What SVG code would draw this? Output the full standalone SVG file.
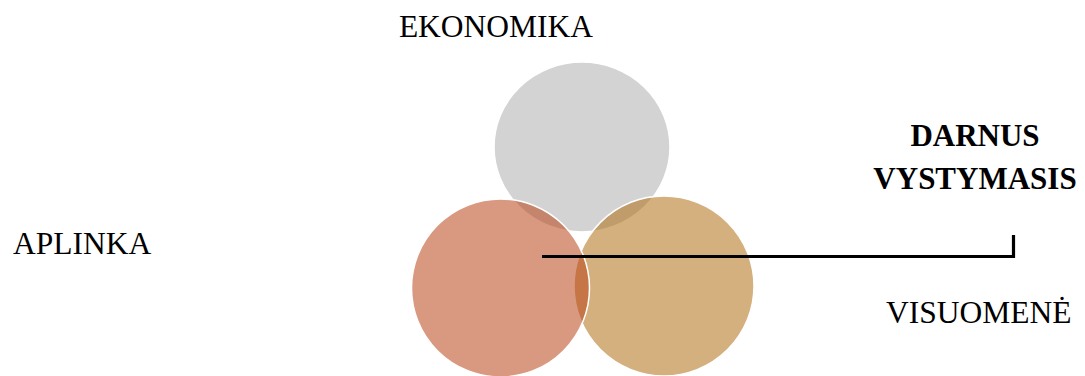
<svg xmlns="http://www.w3.org/2000/svg" width="1085" height="376" viewBox="0 0 1085 376">
<style>
.lbl{font-family:"Liberation Serif","Times New Roman",serif;font-size:31.5px;fill:#000}
.b{font-weight:bold;font-size:31px}
.c{stroke:#fff;stroke-width:1.5}
.conn{fill:none;stroke:#000;stroke-width:3.2}
</style>
<rect width="1085" height="376" fill="#fff"/>
<g id="ekonomika">
<ellipse class="c" cx="582" cy="147" rx="88" ry="85" fill="#d3d3d3"/>
</g>
<g id="visuomene">
<circle class="c" cx="664" cy="286" r="90" fill="rgb(178,111,22)" fill-opacity="0.55"/>
</g>
<g id="aplinka">
<circle class="c" cx="500.5" cy="288" r="89" fill="rgb(185,69,24)" fill-opacity="0.55"/>
</g>
<g id="connectors">
<polyline class="conn" points="542,256.5 1013.5,256.5 1013.5,235"/>
</g>
<g id="labels">
<text class="lbl" x="496" y="37" text-anchor="middle">EKONOMIKA</text>
<text class="lbl" x="13" y="254">APLINKA</text>
<text class="lbl" x="886" y="323">VISUOMENĖ</text>
<text class="lbl b" x="975" y="146" text-anchor="middle">DARNUS</text>
<text class="lbl b" x="975" y="189" text-anchor="middle">VYSTYMASIS</text>
</g>
</svg>
